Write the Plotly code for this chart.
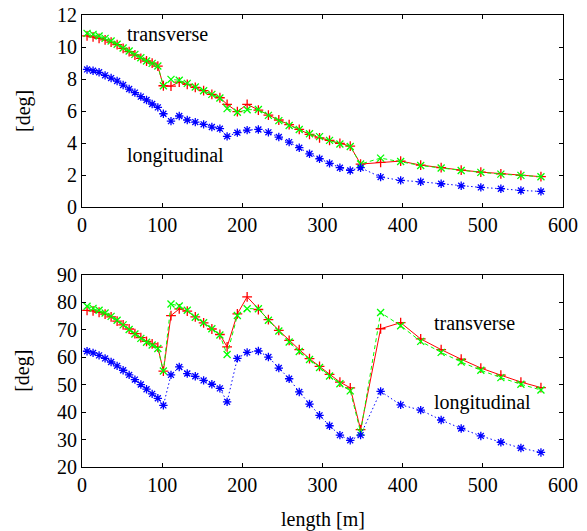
import plotly.graph_objects as go

# shared lengths [m]
length_m = [6.3, 13.8, 21.3, 28.8, 36.3, 43.8, 51.3, 58.8, 66, 73.4, 80.5, 87.5, 94.6, 101.5,
            111, 121.3, 131.3, 141.3, 151.7, 162, 172, 181,
            193.8, 206, 220, 232.5, 245.5, 258.4, 271, 283.8, 296.3, 308.8, 321.7, 334.6, 347.5,
            372.5, 397.5, 422.5, 448, 473, 497.5, 522.5, 547.5, 572.5]

# top panel [deg]
top_red = [10.69, 10.63, 10.54, 10.44, 10.31, 10.15, 9.92, 9.71, 9.5, 9.29, 9.125, 9.0, 8.81, 7.58,
           7.56, 7.81, 7.67, 7.48, 7.27, 7.04, 6.83, 6.42,
           5.96, 6.42, 6.06, 5.75, 5.44, 5.15, 4.85, 4.54, 4.33, 4.17, 3.98, 3.81, 2.69,
           2.79, 2.875, 2.625, 2.46, 2.31, 2.19, 2.08, 1.98, 1.9]
top_green = [10.85, 10.79, 10.69, 10.54, 10.375, 10.17, 9.94, 9.75, 9.54, 9.33, 9.125, 8.98, 8.81, 7.58,
             7.98, 7.92, 7.73, 7.5, 7.27, 7.04, 6.81, 6.15,
             5.92, 6.08, 6.1, 5.73, 5.4, 5.1, 4.85, 4.58, 4.4, 4.17, 3.94, 3.79, 2.69,
             3.06, 2.85, 2.6, 2.44, 2.29, 2.17, 2.06, 1.98, 1.9]
top_blue = [8.60, 8.52, 8.42, 8.23, 8.06, 7.875, 7.625, 7.375, 7.15, 6.9, 6.69, 6.44, 6.23, 5.83,
            5.37, 5.69, 5.44, 5.31, 5.17, 5.0, 4.9, 4.42,
            4.65, 4.81, 4.85, 4.67, 4.375, 4.06, 3.71, 3.33, 3.02, 2.73, 2.46, 2.29, 2.46,
            1.875, 1.67, 1.58, 1.46, 1.33, 1.23, 1.15, 1.04, 0.98]

# bottom panel [deg]
bot_red = [77.0, 76.8, 76.3, 75.6, 74.6, 73.1, 71.7, 70.2, 68.5, 67.1, 65.7, 64.8, 63.6, 54.9,
           75.1, 77.5, 76.7, 74.6, 72.4, 70.2, 68.2, 63.7,
           75.7, 81.9, 77.3, 73.6, 69.7, 66.1, 62.7, 59.4, 56.6, 53.7, 50.9, 48.8, 33.6,
           70.3, 72.5, 66.6, 62.7, 59.2, 56.0, 53.4, 50.9, 48.9]
bot_green = [78.5, 77.7, 77.0, 76.0, 74.8, 73.4, 71.7, 70.0, 68.4, 66.8, 65.4, 64.4, 63.1, 54.9,
             79.3, 78.6, 77.0, 74.5, 72.5, 70.3, 68.0, 60.9,
             75.1, 77.6, 77.6, 73.4, 69.5, 65.5, 62.0, 59.1, 56.2, 53.1, 50.3, 47.7, 32.7,
             76.2, 71.4, 65.7, 61.7, 58.2, 55.2, 52.5, 50.1, 48.0]
bot_blue = [62.1, 61.5, 60.6, 59.5, 58.2, 56.8, 55.2, 53.5, 51.8, 50.0, 48.3, 46.6, 45.0, 42.4,
            53.5, 56.4, 54.0, 53.0, 51.5, 50.1, 48.6, 43.7,
            59.5, 61.7, 62.2, 60.0, 56.0, 52.1, 47.3, 42.9, 38.8, 35.0, 31.6, 29.7, 31.6,
            47.5, 42.6, 40.7, 37.1, 34.0, 31.3, 29.0, 26.9, 25.3]

x_ticks = [0, 100, 200, 300, 400, 500, 600]
top_ticks = [0, 2, 4, 6, 8, 10, 12]
bot_ticks = [20, 30, 40, 50, 60, 70, 80, 90]

FONT = "Liberation Serif"
FS = 20

fig = go.Figure()

def add_series(y, color, dash, symbol, xa, ya):
    fig.add_trace(go.Scatter(
        x=length_m, y=y, mode="lines+markers", xaxis=xa, yaxis=ya,
        line=dict(color=color, width=1, dash=dash),
        marker=dict(symbol=symbol, size=7, color=color, line=dict(color=color, width=1.3)),
        showlegend=False, cliponaxis=False))

for xa, ya, r, g, b in [("x", "y", top_red, top_green, top_blue),
                        ("x2", "y2", bot_red, bot_green, bot_blue)]:
    add_series(r, "#ff0000", "solid", "cross-thin", xa, ya)
    add_series(g, "#00ff00", "4px,3px", "x-thin", xa, ya)
    add_series(b, "#0000ff", "1.5px,2.5px", "asterisk", xa, ya)

axis_common = dict(showline=True, linecolor="black", linewidth=1, mirror="ticks",
                   ticks="inside", ticklen=4, tickcolor="black", tickwidth=1,
                   showgrid=False, zeroline=False, automargin=False,
                   tickfont=dict(family=FONT, size=FS, color="black"))

fig.update_layout(
    width=587, height=531,
    margin=dict(l=82, r=24, t=15, b=64),
    paper_bgcolor="white", plot_bgcolor="white",
    font=dict(family=FONT, size=FS, color="black"),
    xaxis=dict(domain=[0, 1], anchor="y", range=[0, 600], tickvals=x_ticks, **axis_common),
    yaxis=dict(domain=[0.575, 1], anchor="x", range=[0, 12], tickvals=top_ticks, **axis_common),
    xaxis2=dict(domain=[0, 1], anchor="y2", range=[0, 600], tickvals=x_ticks, **axis_common),
    yaxis2=dict(domain=[0, 0.4257], anchor="x2", range=[20, 90], tickvals=bot_ticks, **axis_common),
)

ann = [
    dict(x=107, y=10.8, xref="x", yref="y", text="transverse"),
    dict(x=117, y=3.25, xref="x", yref="y", text="longitudinal"),
    dict(x=490, y=72.4, xref="x2", yref="y2", text="transverse"),
    dict(x=500, y=43.4, xref="x2", yref="y2", text="longitudinal"),
]
for a in ann:
    fig.add_annotation(showarrow=False, font=dict(family=FONT, size=FS, color="black"), **a)

fig.add_annotation(text="length [m]", xref="paper", yref="paper", x=0.5, y=-0.117,
                   xanchor="center", yanchor="middle",
                   showarrow=False, font=dict(family=FONT, size=FS, color="black"))
for yc in (0.7876, 0.2128):
    fig.add_annotation(text="[deg]", xref="paper", yref="paper", x=-0.1227, y=yc,
                       xanchor="center", yanchor="middle", textangle=-90, showarrow=False,
                       font=dict(family=FONT, size=FS, color="black"))

# remove the default page margin so the 587x531 figure fills the window exactly
fig.write_html("out.html", config={"displayModeBar": False},
               post_script="document.body.style.margin='0px';document.body.style.overflow='hidden';")
